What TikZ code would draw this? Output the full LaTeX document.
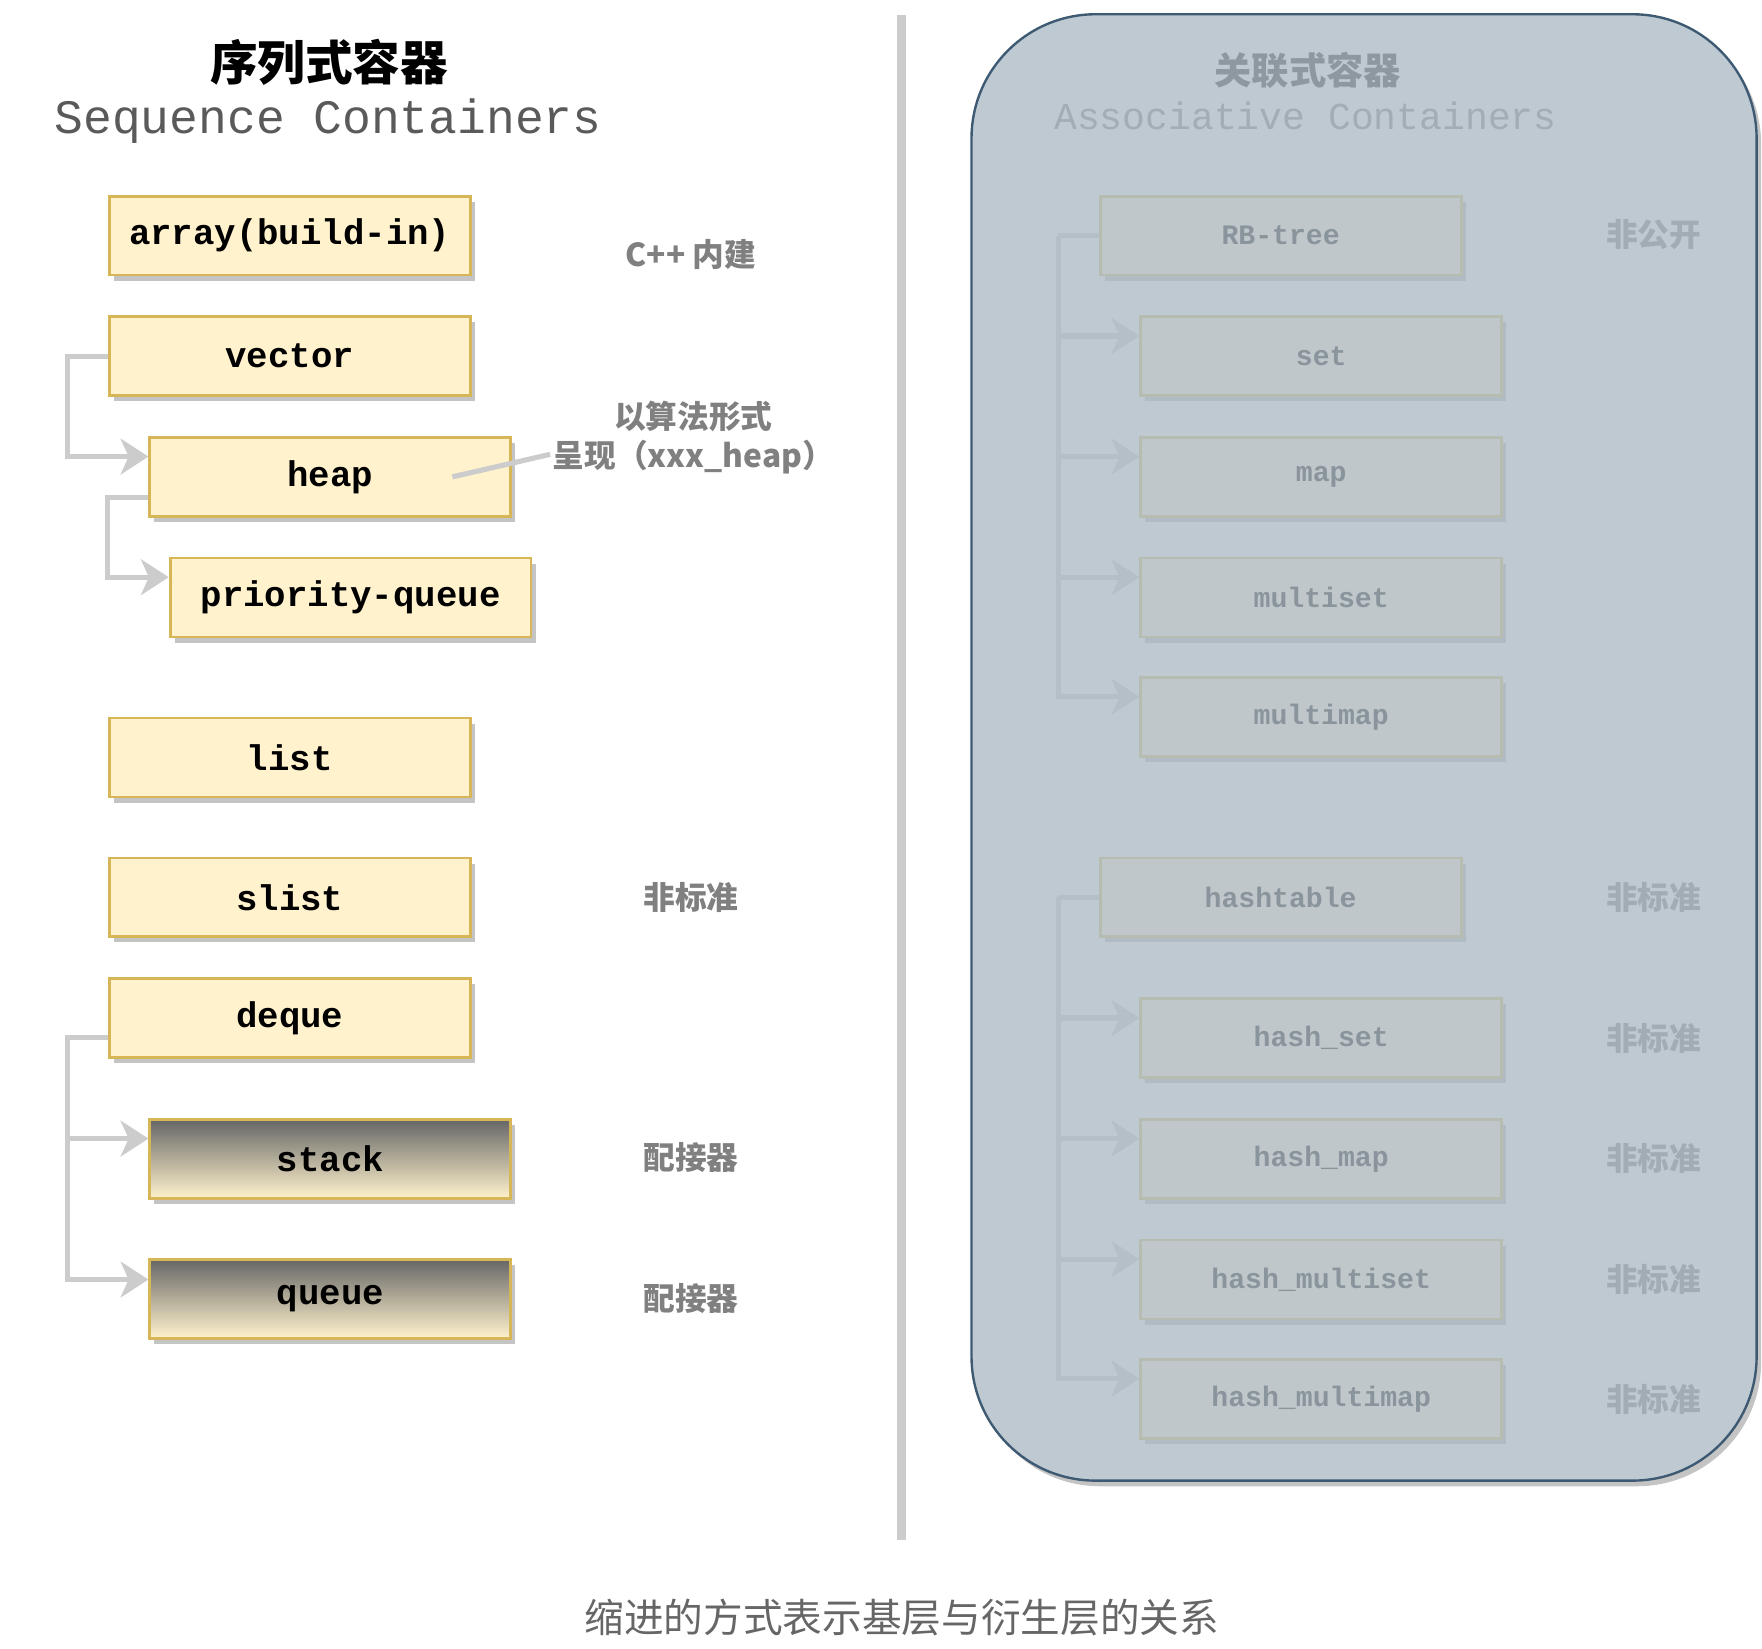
\documentclass[tikz,border=0pt]{standalone}
\usepackage{fontspec}
\setmonofont{Liberation Mono}
\newfontfamily\cjk{Noto Sans CJK SC}
\usepackage{tikz}
\usetikzlibrary{arrows.meta,shadows}

\definecolor{boxfill}{HTML}{FFF2CC}
\definecolor{boxdraw}{HTML}{D6B656}
\definecolor{boxshade}{HTML}{C4C4C4}
\definecolor{adtop}{HTML}{666666}
\definecolor{connline}{HTML}{CCCCCC}
\definecolor{notegray}{HTML}{808080}
\definecolor{seqgray}{HTML}{5A5A5A}
\definecolor{capgray}{HTML}{666666}
\definecolor{assocfill}{HTML}{BEC9D2}
\definecolor{assocdraw}{HTML}{3E5A73}
\definecolor{afill}{HTML}{BFC7CA}
\definecolor{adraw}{HTML}{B6BCB0}
\definecolor{ashade}{HTML}{B1BBC4}
\definecolor{atext}{HTML}{8A949C}
\definecolor{aconn}{HTML}{B4BFC8}
\definecolor{anote}{HTML}{A3ACB5}
\definecolor{atitle}{HTML}{8E98A1}
\definecolor{asub}{HTML}{A3ADB6}

\begin{document}
\begin{tikzpicture}[x=0.01cm, y=-0.01cm,
    box/.style={draw=boxdraw, fill=boxfill, line width=0.7pt, minimum width=3.2cm, minimum height=0.7cm,
      font=\ttfamily\bfseries\fontsize{9}{11}\selectfont,
      drop shadow={shadow xshift=0.04cm, shadow yshift=-0.05cm, fill=boxshade, opacity=1}},
    adapter/.style={box, top color=adtop, bottom color=boxfill},
    abox/.style={draw=adraw, fill=afill, line width=0.7pt, minimum width=3.2cm, minimum height=0.7cm, text=atext,
      font=\ttfamily\bfseries\fontsize{7.1}{9}\selectfont,
      drop shadow={shadow xshift=0.04cm, shadow yshift=-0.05cm, fill=ashade, opacity=1}},
    note/.style={text=notegray, font=\cjk\bfseries\fontsize{8}{10}\selectfont, align=center},
    anotes/.style={note, text=anote},
    conn/.style={draw=connline, line width=1.3pt, -{Stealth[length=7pt, width=9pt, inset=2pt]}},
    aconns/.style={conn, draw=aconn},
  ]
  \useasboundingbox (0,0) rectangle (1563,1462);

  % left: sequence containers
  \node[font=\cjk\bfseries\fontsize{12}{14}\selectfont] (seqcn) at (292,55) {序列式容器};
  \node[text=seqgray, font=\ttfamily\fontsize{12.1}{14}\selectfont] (seqen) at (291,107) {Sequence Containers};

  \node[box]     (array)  at (257,209)  {array(build-in)};
  \node[box]     (vector) at (257,316)  {vector};
  \node[box]     (heap)   at (293,423)  {heap};
  \node[box]     (pq)     at (311,530)  {priority-queue};
  \node[box]     (list)   at (257,672)  {list};
  \node[box]     (slist)  at (257,796)  {slist};
  \node[box]     (deque)  at (257,903)  {deque};
  \node[adapter] (stack)  at (293,1028) {stack};
  \node[adapter] (queue)  at (293,1152) {queue};

  \node[note] (cpp)     at (613,226)  {C++ 内建};
  \node[note] (heaplbl) at (615,388)  {以算法形式\\呈现（xxx\_heap）};
  \node[note] (nstd)    at (613,796)  {非标准};
  \node[note] (adp1)    at (613,1027) {配接器};
  \node[note] (adp2)    at (613,1152) {配接器};

  \draw[conn] (vector.west) -- ++(-36,0) |- ([yshift=0.18cm]heap.west);
  \draw[conn] ([yshift=-0.18cm]heap.west) -- ++(-36,0) |- ([yshift=0.18cm]pq.west);
  \draw[conn] ([yshift=-0.17cm]deque.west) -- ++(-36,0) coordinate (dq) |- ([yshift=0.18cm]stack.west);
  \draw[conn] (dq) |- ([yshift=0.17cm]queue.west);

  \coordinate (hl) at (488,403);
  \draw[connline, line width=1.3pt] ([xshift=-0.53cm]heap.east) -- (hl);

  % divider
  \draw[connline, line width=2.3pt] (800,13) -- (800,1366);

  % right: associative containers
  \node[draw=assocdraw, fill=assocfill, line width=0.6pt, rounded corners=1.1cm,
    minimum width=6.96cm, minimum height=13cm,
    drop shadow={shadow xshift=0.04cm, shadow yshift=-0.05cm, fill=boxshade, opacity=1}] (assoc) at (1210,663) {};

  \node[text=atitle, font=\cjk\bfseries\fontsize{9.4}{11}\selectfont] (asscn) at (1160,62) {关联式容器};
  \node[text=asub, font=\ttfamily\fontsize{9.6}{11}\selectfont] (assen) at (1158,103) {Associative Containers};

  \node[abox] (rbtree) at (1136,209)  {RB-tree};
  \node[abox] (set)    at (1172,316)  {set};
  \node[abox] (map)    at (1172,423)  {map};
  \node[abox] (mset)   at (1172,530)  {multiset};
  \node[abox] (mmap)   at (1172,636)  {multimap};
  \node[abox] (htable) at (1136,796)  {hashtable};
  \node[abox] (hset)   at (1172,921)  {hash\_set};
  \node[abox] (hmap)   at (1172,1028) {hash\_map};
  \node[abox] (hmset)  at (1172,1135) {hash\_multiset};
  \node[abox] (hmmap)  at (1172,1241) {hash\_multimap};

  \node[anotes] (npub) at (1467,208)  {非公开};
  \node[anotes] (ns1)  at (1467,796)  {非标准};
  \node[anotes] (ns2)  at (1467,921)  {非标准};
  \node[anotes] (ns3)  at (1467,1028) {非标准};
  \node[anotes] (ns4)  at (1467,1135) {非标准};
  \node[anotes] (ns5)  at (1467,1241) {非标准};

  \draw[aconns, -] (rbtree.west) -- ++(-36,0) coordinate (rbc);
  \foreach \n in {set,map,mset,mmap}
    \draw[aconns] (rbc) |- ([yshift=0.18cm]\n.west);

  \draw[aconns, -] (htable.west) -- ++(-36,0) coordinate (htc);
  \foreach \n in {hset,hmap,hmset,hmmap}
    \draw[aconns] (htc) |- ([yshift=0.18cm]\n.west);

  % caption
  \node[text=capgray, font=\cjk\fontsize{10}{12}\selectfont] (caption) at (800,1435) {缩进的方式表示基层与衍生层的关系};
\end{tikzpicture}
\end{document}
